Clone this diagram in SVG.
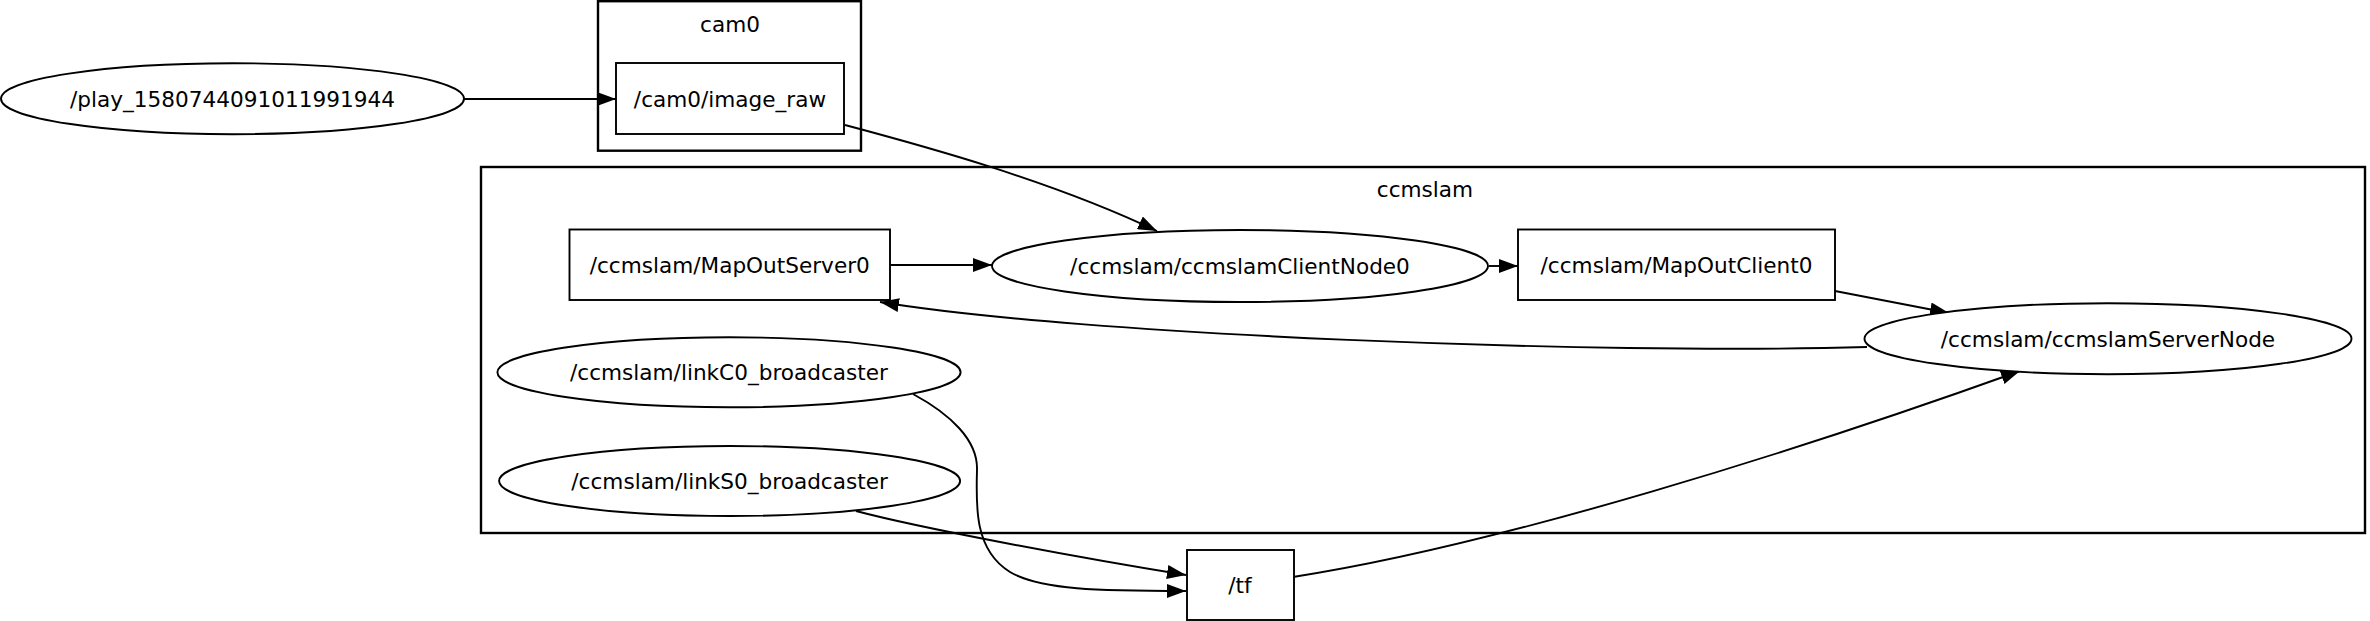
<svg xmlns="http://www.w3.org/2000/svg" width="2370" height="621" viewBox="0 0 2370 621">
<defs>
<style>
.bg{fill:#ffffff}
.cluster{fill:none;stroke:#000;stroke-width:2.4}
.node{fill:#ffffff;stroke:#000;stroke-width:1.9}
.edge{fill:none;stroke:#000;stroke-width:1.9;marker-end:url(#ah)}
text{font-family:"DejaVu Sans","Liberation Sans",sans-serif;font-size:21.6px;fill:#000;text-anchor:middle}
</style>
<marker id="ah" markerUnits="userSpaceOnUse" markerWidth="19" markerHeight="14" viewBox="0 0 19 14" refX="19" refY="7" orient="auto">
<path d="M0,0 L19,7 L0,14 z" fill="#000"/>
</marker>
</defs>
<rect class="bg" x="0" y="0" width="2370" height="621"/>
<g id="cluster_cam0">
<rect class="cluster" x="598" y="1.2" width="263" height="149.5"/>
<text x="730" y="32">cam0</text>
</g>
<g id="cluster_ccmslam">
<rect class="cluster" x="481" y="167" width="1884" height="366"/>
<text x="1425" y="197">ccmslam</text>
</g>
<g id="connectors">
<path class="edge" d="M464,99 L616,99"/>
<path class="edge" d="M845,125 C920,145 1050,180 1157,231"/>
<path class="edge" d="M890,265 L992,265"/>
<path class="edge" d="M1489,266 L1518,266"/>
<path class="edge" d="M1835,291 L1949,313"/>
<path class="edge" d="M1867,347 C1600,355 1080,335 880,302"/>
<path class="edge" d="M913,394 C950,414 978,440 977,470 C976,505 974,550 1010,572 C1040,590 1100,591 1186,591"/>
<path class="edge" d="M856,511 C920,528 1080,558 1186,575"/>
<path class="edge" d="M1293,577 C1500,545 1800,450 2020,371"/>
</g>
<g id="node_play">
<ellipse class="node" cx="232.5" cy="98.7" rx="231.5" ry="35.5"/>
<text x="232.5" y="106.5">/play_1580744091011991944</text>
</g>
<g id="node_image_raw">
<rect class="node" x="616" y="63" width="228" height="71"/>
<text x="730" y="106.5">/cam0/image_raw</text>
</g>
<g id="node_MapOutServer0">
<rect class="node" x="569.5" y="229.5" width="320.5" height="70.5"/>
<text x="729.75" y="272.5">/ccmslam/MapOutServer0</text>
</g>
<g id="node_ClientNode0">
<ellipse class="node" cx="1240" cy="266" rx="248" ry="36"/>
<text x="1240" y="273.5">/ccmslam/ccmslamClientNode0</text>
</g>
<g id="node_MapOutClient0">
<rect class="node" x="1518" y="229.5" width="317" height="70.5"/>
<text x="1676.5" y="272.5">/ccmslam/MapOutClient0</text>
</g>
<g id="node_ServerNode">
<ellipse class="node" cx="2108" cy="338.7" rx="243.5" ry="35.5"/>
<text x="2108" y="346.5">/ccmslam/ccmslamServerNode</text>
</g>
<g id="node_linkC0">
<ellipse class="node" cx="729" cy="372.3" rx="231.6" ry="35"/>
<text x="729" y="380">/ccmslam/linkC0_broadcaster</text>
</g>
<g id="node_linkS0">
<ellipse class="node" cx="729.6" cy="481" rx="230.5" ry="35"/>
<text x="729.6" y="488.5">/ccmslam/linkS0_broadcaster</text>
</g>
<g id="node_tf">
<rect class="node" x="1187" y="550" width="107" height="70"/>
<text x="1240" y="592.5">/tf</text>
</g>
</svg>
